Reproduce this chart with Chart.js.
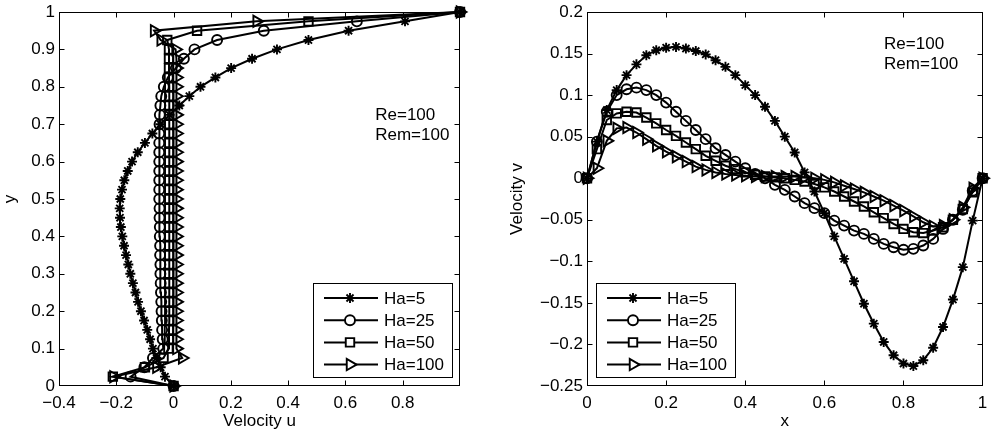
<!DOCTYPE html>
<html>
<head>
<meta charset="utf-8">
<script src="https://cdn.jsdelivr.net/npm/chart.js@4.4.1/dist/chart.umd.min.js"></script>
<style>
  html, body { margin: 0; padding: 0; background: #fff; }
  #wrap { position: relative; width: 991px; height: 434px; }
  .pane { position: absolute; top: 0; height: 434px; }
  #left { left: 0; width: 495px; }
  #right { left: 495px; width: 496px; }
</style>
</head>
<body>
<div id="wrap">
  <div class="pane" id="left"><canvas id="u-chart"></canvas></div>
  <div class="pane" id="right"><canvas id="v-chart"></canvas></div>
</div>
<script>
// sample positions along the centrelines (y for u-profile, x for v-profile)
const gridPts = [0, 0.025, 0.05, 0.075, 0.1, 0.125, 0.15, 0.175, 0.2, 0.225, 0.25, 0.275, 0.3, 0.325, 0.35, 0.375, 0.4,
    0.425, 0.45, 0.475, 0.5, 0.525, 0.55, 0.575, 0.6, 0.625, 0.65, 0.675, 0.7, 0.725, 0.75, 0.775, 0.8, 0.825, 0.85,
    0.875, 0.9, 0.925, 0.95, 0.975, 1];

const seriesLabels = ['Ha=5', 'Ha=25', 'Ha=50', 'Ha=100'];

// Velocity u along the vertical centreline
const uHa5 = [0, -0.030, -0.045, -0.060, -0.072, -0.082, -0.092, -0.103, -0.114, -0.124, -0.133, -0.142, -0.151,
    -0.158, -0.166, -0.173, -0.179, -0.184, -0.187, -0.188, -0.186, -0.180, -0.172, -0.160, -0.145, -0.125, -0.100,
    -0.074, -0.046, -0.014, 0.020, 0.055, 0.094, 0.146, 0.201, 0.274, 0.361, 0.471, 0.611, 0.808, 1];
const uHa25 = [0, -0.150, -0.102, -0.072, -0.036, -0.038, -0.040, -0.041, -0.042, -0.043, -0.044, -0.045, -0.046,
    -0.046, -0.047, -0.047, -0.048, -0.048, -0.049, -0.049, -0.050, -0.050, -0.050, -0.050, -0.050, -0.050, -0.050,
    -0.050, -0.049, -0.048, -0.046, -0.043, -0.034, -0.020, 0.008, 0.036, 0.073, 0.152, 0.315, 0.640, 1];
const uHa50 = [0, -0.212, -0.100, -0.035, -0.018, -0.016, -0.016, -0.015, -0.015, -0.015, -0.015, -0.015, -0.015,
    -0.015, -0.015, -0.015, -0.015, -0.015, -0.015, -0.015, -0.015, -0.015, -0.015, -0.015, -0.015, -0.015, -0.015,
    -0.015, -0.015, -0.015, -0.015, -0.015, -0.015, -0.016, -0.016, -0.016, -0.016, -0.022, 0.082, 0.471, 1];
const uHa100 = [0, -0.210, -0.060, 0.030, 0.010, 0.010, 0.010, 0.010, 0.010, 0.010, 0.010, 0.010, 0.010, 0.010,
    0.010, 0.010, 0.010, 0.010, 0.010, 0.010, 0.010, 0.010, 0.010, 0.010, 0.010, 0.010, 0.010, 0.010, 0.010, 0.010,
    0.010, 0.010, 0.010, 0.010, 0.010, 0.010, 0.007, -0.045, -0.068, 0.290, 1];

// Velocity v along the horizontal centreline
const vHa5 = [0, 0.044, 0.082, 0.106, 0.124, 0.137, 0.148, 0.154, 0.157, 0.158, 0.156, 0.153, 0.149, 0.142, 0.134,
    0.124, 0.112, 0.100, 0.086, 0.069, 0.050, 0.031, 0.007, -0.016, -0.042, -0.070, -0.097, -0.124, -0.151, -0.175,
    -0.197, -0.213, -0.223, -0.226, -0.219, -0.204, -0.179, -0.146, -0.107, -0.051, 0];
const vHa25 = [0, 0.044, 0.080, 0.100, 0.107, 0.109, 0.106, 0.100, 0.091, 0.080, 0.069, 0.058, 0.047, 0.036, 0.028,
    0.020, 0.012, 0.005, 0.000, -0.008, -0.014, -0.022, -0.030, -0.036, -0.042, -0.051, -0.057, -0.063, -0.067,
    -0.073, -0.079, -0.083, -0.086, -0.085, -0.081, -0.073, -0.061, -0.050, -0.038, -0.015, 0];
const vHa50 = [0, 0.035, 0.070, 0.078, 0.080, 0.079, 0.073, 0.066, 0.058, 0.051, 0.043, 0.035, 0.027, 0.021, 0.015,
    0.011, 0.007, 0.004, 0.002, 0.001, 0.000, -0.002, -0.004, -0.007, -0.011, -0.016, -0.022, -0.028, -0.034, -0.041,
    -0.048, -0.055, -0.061, -0.065, -0.066, -0.063, -0.059, -0.050, -0.037, -0.017, 0];
const vHa100 = [0, 0.012, 0.045, 0.060, 0.061, 0.055, 0.047, 0.039, 0.032, 0.026, 0.020, 0.014, 0.010, 0.007, 0.005,
    0.004, 0.003, 0.002, 0.002, 0.002, 0.002, 0.002, 0.001, 0.000, -0.002, -0.005, -0.009, -0.013, -0.017, -0.022,
    -0.027, -0.033, -0.039, -0.046, -0.053, -0.058, -0.057, -0.050, -0.035, -0.012, 0];

// tick values
const uTicks = [-0.4, -0.2, 0, 0.2, 0.4, 0.6, 0.8];
const yTicks = [0, 0.1, 0.2, 0.3, 0.4, 0.5, 0.6, 0.7, 0.8, 0.9, 1];
const xTicks = [0, 0.2, 0.4, 0.6, 0.8, 1];
const vTicks = [-0.25, -0.2, -0.15, -0.1, -0.05, 0, 0.05, 0.1, 0.15, 0.2];

const noteLines = ['Re=100', 'Rem=100'];

const FONT = '"Liberation Sans", Arial, Helvetica, sans-serif';
Chart.defaults.font.family = FONT;
Chart.defaults.font.size = 17;
Chart.defaults.color = '#000';

const fmt = (v) => String(Number(v.toFixed(3))).replace('-', '\u2212');

// marker per series: asterisk, circle, square, right-pointing triangle
function seriesStyle(i) {
    const marks = [
        { pointStyle: 'star', pointRadius: 5, pointRotation: 0 },
        { pointStyle: 'circle', pointRadius: 5, pointRotation: 0 },
        { pointStyle: 'rect', pointRadius: 6, pointRotation: 0 },
        { pointStyle: 'triangle', pointRadius: 6.5, pointRotation: 90 }
    ];
    return Object.assign({
        showLine: true,
        borderColor: '#000',
        borderWidth: 2,
        pointBorderColor: '#000',
        pointBackgroundColor: 'rgba(0,0,0,0)',
        pointBorderWidth: 1.9,
        clip: false
    }, marks[i]);
}

function makeSets(xsList, ysList) {
    return seriesLabels.map((label, i) => Object.assign({
        label: label,
        data: xsList[i].map((x, k) => ({ x: x, y: ysList[i][k] }))
    }, seriesStyle(i)));
}

// MATLAB-like box with inward ticks, text notes and legend
const matlabAxes = {
    id: 'matlabAxes',
    afterDatasetsDraw(chart, args, opts) {
        const ctx = chart.ctx;
        const a = chart.chartArea;
        const xs = chart.scales.x, ys = chart.scales.y;
        ctx.save();
        ctx.strokeStyle = '#000';
        ctx.lineWidth = 1;
        const L = Math.round(a.left) + 0.5, R = Math.round(a.right) - 0.5;
        const T = Math.round(a.top) + 0.5, B = Math.round(a.bottom) - 0.5;
        ctx.strokeRect(L, T, R - L, B - T);
        ctx.beginPath();
        xs.ticks.forEach(t => {
            const px = Math.round(xs.getPixelForValue(t.value)) + 0.5;
            if (px <= L + 1 || px >= R - 1) return;
            ctx.moveTo(px, B); ctx.lineTo(px, B - 5);
            ctx.moveTo(px, T); ctx.lineTo(px, T + 5);
        });
        ys.ticks.forEach(t => {
            const py = Math.round(ys.getPixelForValue(t.value)) + 0.5;
            if (py <= T + 1 || py >= B - 1) return;
            ctx.moveTo(L, py); ctx.lineTo(L + 5, py);
            ctx.moveTo(R, py); ctx.lineTo(R - 5, py);
        });
        ctx.stroke();

        // text notes
        ctx.fillStyle = '#000';
        ctx.font = '17px ' + FONT;
        ctx.textAlign = 'left';
        ctx.textBaseline = 'middle';
        opts.notes.forEach((n, i) => {
            ctx.fillText(noteLines[i], xs.getPixelForValue(n.x), ys.getPixelForValue(n.y));
        });

        // legend
        const w = 139, h = 94;
        const bx = opts.legendSide === 'right' ? Math.round(a.right) - 8 - w : Math.round(a.left) + 9;
        const by = Math.round(a.bottom) - 9 - h;
        ctx.fillStyle = '#fff';
        ctx.fillRect(bx, by, w, h);
        ctx.lineWidth = 1;
        ctx.strokeRect(bx + 0.5, by + 0.5, w, h);
        chart.data.datasets.forEach((ds, i) => {
            const y = by + 15 + i * 22.2;
            ctx.strokeStyle = '#000';
            ctx.lineWidth = ds.borderWidth;
            ctx.beginPath();
            ctx.moveTo(bx + 11, y); ctx.lineTo(bx + 65, y);
            ctx.stroke();
            ctx.fillStyle = '#fff';
            ctx.lineWidth = ds.pointBorderWidth;
            Chart.helpers.drawPoint(ctx, {
                pointStyle: ds.pointStyle, radius: ds.pointRadius,
                rotation: ds.pointRotation, borderWidth: ds.pointBorderWidth
            }, bx + 37, y);
            ctx.fillStyle = '#000';
            ctx.fillText(ds.label, bx + 71, y + 1);
        });
        ctx.restore();
    }
};

function axis(min, max, ticks, title, isX, titlePad, yWidth) {
    return {
        type: 'linear',
        min: min,
        max: max,
        grid: { display: false, drawTicks: false },
        border: { display: false },
        afterBuildTicks: (scale) => { scale.ticks = ticks.map(v => ({ value: v })); },
        afterFit: (scale) => {
            if (isX) { scale.height = 48; scale.paddingLeft = 0; scale.paddingRight = 0; }
            else { scale.width = yWidth; scale.paddingTop = 0; scale.paddingBottom = 0; }
        },
        ticks: {
            autoSkip: false,
            maxRotation: 0,
            padding: isX ? 7 : 4,
            callback: (v) => fmt(v)
        },
        title: { display: true, text: title, padding: titlePad }
    };
}

function makeChart(id, datasets, scales, padding, pluginOpts) {
    return new Chart(document.getElementById(id).getContext('2d'), {
        type: 'scatter',
        data: { datasets: datasets },
        options: {
            responsive: true,
            maintainAspectRatio: false,
            animation: false,
            events: [],
            layout: { padding: padding },
            plugins: { legend: { display: false }, tooltip: { enabled: false }, matlabAxes: pluginOpts },
            scales: scales
        },
        plugins: [matlabAxes]
    });
}

// Left: u-profile
makeChart('u-chart',
    makeSets([uHa5, uHa25, uHa50, uHa100], [gridPts, gridPts, gridPts, gridPts]),
    {
        x: axis(-0.4, 1, uTicks, 'Velocity u', true, { top: 0, bottom: 2 }),
        y: axis(0, 1, yTicks, 'y', false, { top: 0, bottom: 0 }, 59)
    },
    { top: 12, right: 35, left: 0, bottom: 0 },
    { legendSide: 'right', notes: [{ x: 0.704, y: 0.725 }, { x: 0.704, y: 0.671 }] }
);

// Right: v-profile
makeChart('v-chart',
    makeSets([gridPts, gridPts, gridPts, gridPts], [vHa5, vHa25, vHa50, vHa100]),
    {
        x: axis(0, 1, xTicks, 'x', true, { top: 0, bottom: 2 }),
        y: axis(-0.25, 0.2, vTicks, 'Velocity v', false, { top: 12, bottom: 0 }, 92)
    },
    { top: 12, right: 2, left: 0, bottom: 0 },
    { legendSide: 'left', notes: [{ x: 0.751, y: 0.161 }, { x: 0.751, y: 0.137 }] }
);
</script>
</body>
</html>
